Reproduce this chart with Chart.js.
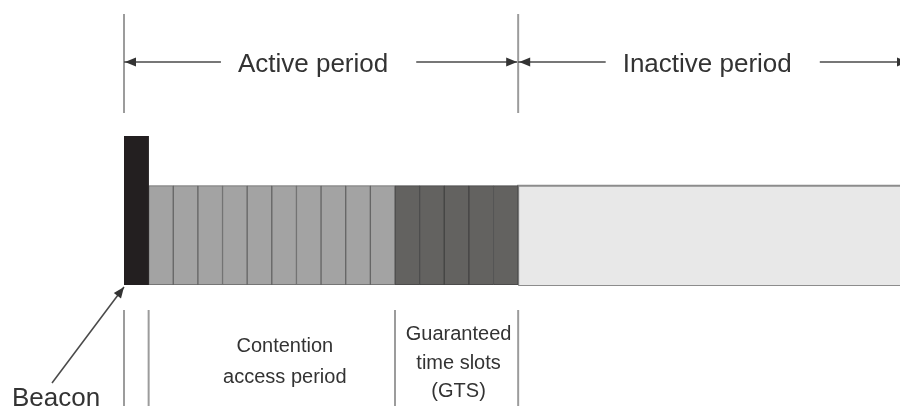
<!DOCTYPE html>
<html>
<head>
<meta charset="utf-8">
<script src="https://cdn.jsdelivr.net/npm/chart.js@4.4.1/dist/chart.umd.min.js"></script>
<style>
    html, body { margin: 0; padding: 0; background: #fff; }
    #wrap { width: 900px; height: 406px; }
</style>
</head>
<body>
<div id="wrap"><canvas id="superframe"></canvas></div>
<script>
// Slot centres (in slot units) and heights
const beaconSlot = [0.5];
const beaconHeight = [3];
const capSlots = [1.5, 2.5, 3.5, 4.5, 5.5, 6.5, 7.5, 8.5, 9.5, 10.5];
const capHeights = [2, 2, 2, 2, 2, 2, 2, 2, 2, 2];
const gtsSlots = [11.5, 12.5, 13.5, 14.5, 15.5];
const gtsHeights = [2, 2, 2, 2, 2];
const inactiveSpan = [16, 32];
const inactiveHeight = [2];

// Labels and the slot edges they belong to
const periodNames = ["Active period", "Inactive period"];
const periodEdges = [0, 16, 32];
const partNames = [["Contention", "access period"], ["Guaranteed", "time slots", "(GTS)"]];
const partEdges = [0, 1, 11, 16];
const beaconLabel = "Beacon";

const FONT = '"Liberation Sans", Arial, sans-serif';

function toPoints(xs, ys) {
    return xs.map((x, i) => ({ x: x, y: ys[i] }));
}

function slotDataset(label, xs, ys, fill, border) {
    return {
        type: "bar",
        label: label,
        data: toPoints(xs, ys),
        backgroundColor: fill,
        borderColor: border,
        borderWidth: 1,
        borderSkipped: false,
        grouped: false,
        barPercentage: 1,
        categoryPercentage: 1
    };
}

// Filled triangle with its tip at (x, y)
function arrowHead(ctx, x, y, angle) {
    const len = 11, half = 4.5;
    ctx.save();
    ctx.translate(x, y);
    ctx.rotate(angle);
    ctx.beginPath();
    ctx.moveTo(0, 0);
    ctx.lineTo(-len, -half);
    ctx.lineTo(-len, half);
    ctx.closePath();
    ctx.fill();
    ctx.restore();
}

function line(ctx, x1, y1, x2, y2) {
    ctx.beginPath();
    ctx.moveTo(x1, y1);
    ctx.lineTo(x2, y2);
    ctx.stroke();
}

// Dimension lines, guide lines and labels around the slots
const annotations = {
    id: "annotations",
    afterDraw(chart) {
        const ctx = chart.ctx;
        const area = chart.chartArea;
        const px = v => chart.scales.x.getPixelForValue(v);
        ctx.save();

        // boundaries above and below the frame
        ctx.strokeStyle = "#9c9c9c";
        ctx.lineWidth = 2;
        periodEdges.forEach(v => line(ctx, px(v), area.top - 122, px(v), area.top - 23));
        partEdges.forEach(v => line(ctx, px(v), area.bottom + 25, px(v), area.bottom + 125));

        // period arrows with their labels
        const arrowY = area.top - 74;
        ctx.font = "26px " + FONT;
        ctx.textAlign = "center";
        ctx.textBaseline = "alphabetic";
        ctx.strokeStyle = "#4a4a4a";
        ctx.fillStyle = "#333";
        ctx.lineWidth = 1.5;
        periodNames.forEach((name, i) => {
            const a = px(periodEdges[i]);
            const b = px(periodEdges[i + 1]);
            const c = (a + b) / 2 - 8;
            const w = ctx.measureText(name).width;
            const end = Math.min(b - 1, area.right + 8);
            ctx.fillText(name, c, area.top - 64);
            line(ctx, a, arrowY, c - w / 2 - 17, arrowY);
            line(ctx, c + w / 2 + 28, arrowY, end, arrowY);
            arrowHead(ctx, a + 1, arrowY, Math.PI);
            arrowHead(ctx, end, arrowY, 0);
        });

        // part labels under the frame
        ctx.font = "20px " + FONT;
        const partShift = [13, 2];
        const partBase = [[67, 98], [55, 84, 112]];
        partNames.forEach((lines, i) => {
            const c = (px(partEdges[i + 1]) + px(partEdges[i + 2])) / 2 + partShift[i];
            lines.forEach((t, j) => ctx.fillText(t, c, area.bottom + partBase[i][j]));
        });

        // beacon pointer
        const tipX = px(partEdges[0]);
        const tipY = area.bottom + 2;
        const fromX = tipX - 72, fromY = area.bottom + 98;
        line(ctx, fromX, fromY, tipX, tipY);
        arrowHead(ctx, tipX, tipY, Math.atan2(tipY - fromY, tipX - fromX));
        ctx.font = "26px " + FONT;
        ctx.fillText(beaconLabel, tipX - 68, area.bottom + 121);

        ctx.restore();
    }
};

const inactiveTop = [
    { x: inactiveSpan[0], y: 0 },
    { x: inactiveSpan[0], y: inactiveHeight[0] },
    { x: inactiveSpan[1], y: inactiveHeight[0] },
    { x: inactiveSpan[1], y: 0 }
];
const inactiveBase = [
    { x: inactiveSpan[0], y: 0 },
    { x: inactiveSpan[1], y: 0 }
];

new Chart(document.getElementById("superframe"), {
    type: "bar",
    data: {
        datasets: [
            slotDataset("Beacon", beaconSlot, beaconHeight, "#231f20", "#231f20"),
            slotDataset("Contention access period", capSlots, capHeights, "#a3a3a3", "#666"),
            slotDataset("Guaranteed time slots", gtsSlots, gtsHeights, "#636260", "#444"),
            {
                type: "line",
                label: "Inactive period",
                data: inactiveTop,
                fill: "origin",
                backgroundColor: "#e8e8e8",
                borderColor: "#8c8c8c",
                borderWidth: 2,
                pointRadius: 0,
                tension: 0,
                clip: false
            },
            {
                type: "line",
                label: "Inactive base",
                data: inactiveBase,
                fill: false,
                borderColor: "#8c8c8c",
                borderWidth: 2,
                pointRadius: 0,
                clip: false
            }
        ]
    },
    options: {
        responsive: true,
        maintainAspectRatio: false,
        animation: false,
        events: [],
        layout: { padding: { left: 124, right: 0, top: 136, bottom: 121 } },
        plugins: { legend: { display: false }, tooltip: { enabled: false } },
        scales: {
            x: { type: "linear", min: 0, max: 31.5, offset: false, display: false, ticks: { stepSize: 8 } },
            y: { type: "linear", min: 0, max: 3, display: false }
        }
    },
    plugins: [annotations]
});
</script>
</body>
</html>
